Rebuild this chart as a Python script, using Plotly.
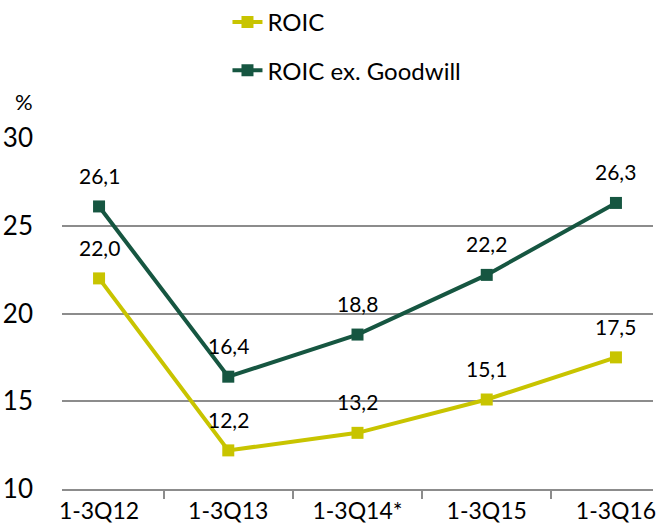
import plotly.graph_objects as go

categories = ["1-3Q12", "1-3Q13", "1-3Q14*", "1-3Q15", "1-3Q16"]
roic = [22.0, 12.2, 13.2, 15.1, 17.5]
roic_ex_gw = [26.1, 16.4, 18.8, 22.2, 26.3]
y_ticks = [10, 15, 20, 25, 30]

YELLOW = "#C8C400"
GREEN = "#165641"
FONT = "Lato, sans-serif"

def fmt(v):
    return f"{v:.1f}".replace(".", ",")

fig = go.Figure()
fig.add_trace(go.Scatter(
    x=categories, y=roic, name="ROIC", mode="lines+markers",
    line=dict(color=YELLOW, width=4), marker=dict(symbol="square", size=12, color=YELLOW),
    legendgroup="a",
))
fig.add_trace(go.Scatter(
    x=categories, y=roic_ex_gw, name="ROIC ex. Goodwill", mode="lines+markers",
    line=dict(color=GREEN, width=4), marker=dict(symbol="square", size=12, color=GREEN),
    legendgroup="b",
))

for series in (roic, roic_ex_gw):
    for c, v in zip(categories, series):
        fig.add_annotation(x=c, y=v, text=fmt(v), showarrow=False, yshift=31,
                           font=dict(size=21, color="#000000", family=FONT))

fig.add_annotation(xref="paper", yref="paper", x=-0.064, y=1.0, yshift=52,
                   text="%", showarrow=False, xanchor="center",
                   font=dict(size=22, color="#000000", family=FONT))

fig.update_layout(
    width=656, height=527,
    margin=dict(l=62, r=0, t=138, b=38),
    paper_bgcolor="white", plot_bgcolor="white",
    font=dict(family=FONT, size=23, color="#000000"),
    showlegend=True,
    legend=dict(x=0.28, y=1.0, xanchor="left", yanchor="top", yref="container",
                orientation="v", tracegroupgap=14, font=dict(size=24),
                bgcolor="rgba(0,0,0,0)"),
    xaxis=dict(showgrid=False, showline=True, linecolor="#8C8C8C", linewidth=2,
               ticks="outside", tickson="boundaries", ticklen=8, tickcolor="#8C8C8C",
               tickwidth=1.5, tickfont=dict(size=23), fixedrange=True),
    yaxis=dict(range=[10, 30], tickvals=y_ticks, showgrid=True, gridcolor="#8C8C8C",
               gridwidth=1.5, zeroline=False, showline=False, ticks="",
               tickfont=dict(size=26), ticklabelstandoff=28),
)

fig.write_html("out.html")
